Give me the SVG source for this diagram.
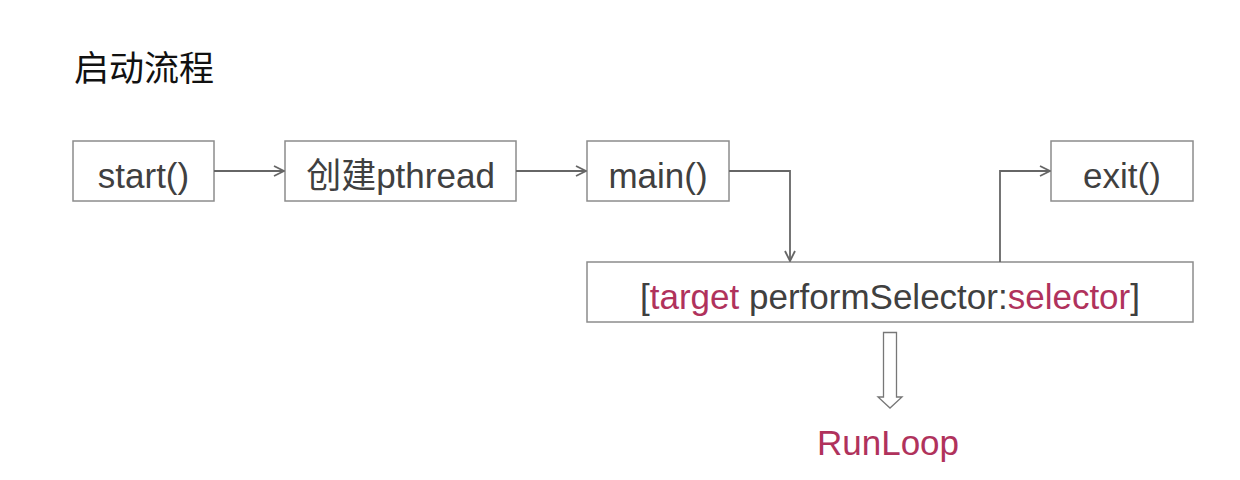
<svg xmlns="http://www.w3.org/2000/svg" width="1240" height="480" viewBox="0 0 1240 480">
<style>
.box{fill:#fff;stroke:#8c8c8c;stroke-width:1.5}
.t{font-family:"Liberation Sans","Noto Sans CJK SC",sans-serif;font-size:35px;fill:#404040;text-anchor:middle}
.r{fill:#b0325c}
.c{fill:none;stroke:#666;stroke-width:1.8}
</style>
<defs>
<marker id="ah" viewBox="0 0 12 12" refX="11" refY="6" markerWidth="12" markerHeight="12" markerUnits="userSpaceOnUse" orient="auto">
<path d="M1,1 L11,6 L1,11" fill="none" stroke="#666" stroke-width="1.8"/>
</marker>
</defs>
<rect width="1240" height="480" fill="#fff"/>
<text x="74" y="81" style="font-family:'Noto Sans CJK SC',sans-serif;font-size:35px;fill:#111">启动流程</text>
<g id="start"><rect class="box" x="73" y="141" width="141" height="60"/><text class="t" x="143.5" y="188">start()</text></g>
<g id="pthread"><rect class="box" x="285" y="141" width="231" height="60"/><text class="t" x="400.5" y="188">创建pthread</text></g>
<g id="main"><rect class="box" x="587" y="141" width="142" height="60"/><text class="t" x="658" y="188">main()</text></g>
<g id="exit"><rect class="box" x="1051" y="141" width="142" height="60"/><text class="t" x="1122" y="188">exit()</text></g>
<g id="perform"><rect class="box" x="587" y="262" width="606" height="60"/><text class="t" x="890" y="309">[<tspan class="r">target</tspan> performSelector:<tspan class="r">selector</tspan>]</text></g>
<g id="connectors">
<path class="c" d="M214,171 H284" marker-end="url(#ah)"/>
<path class="c" d="M516,171 H586" marker-end="url(#ah)"/>
<path class="c" d="M729,171 H790 V261" marker-end="url(#ah)"/>
<path class="c" d="M1000,262 V171 H1050" marker-end="url(#ah)"/>
<path d="M883.5,332.5 H896.5 V397 H902 L890,408 L878,397 H883.5 Z" fill="#fff" stroke="#777" stroke-width="1.3"/>
</g>
<text class="t r" x="888" y="455">RunLoop</text>
</svg>
